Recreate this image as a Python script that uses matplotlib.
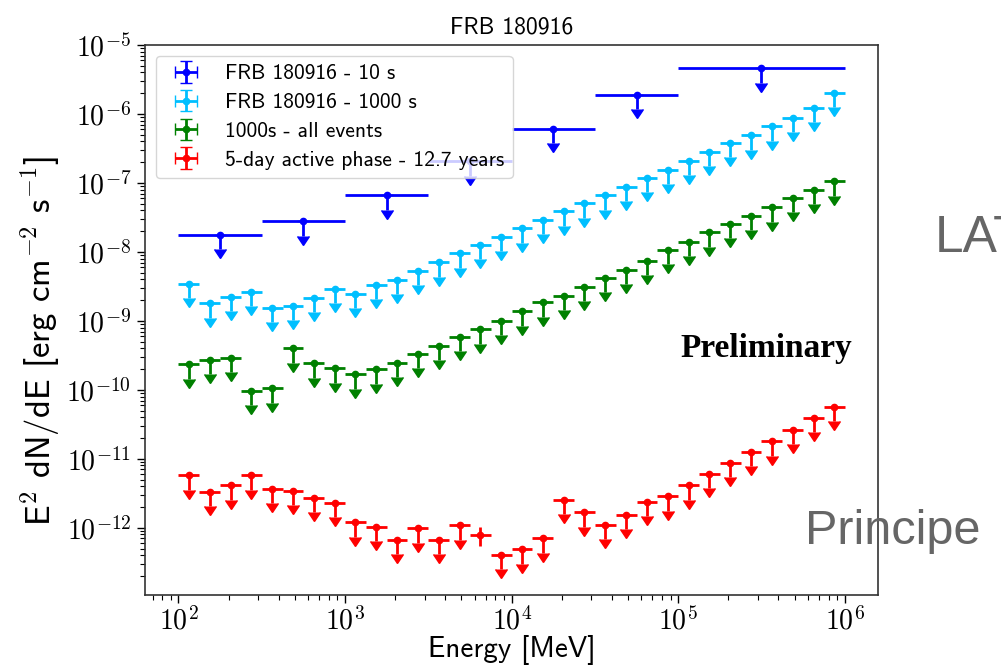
import numpy as np
import matplotlib
matplotlib.use("Agg")
import matplotlib.pyplot as plt
from matplotlib.ticker import FuncFormatter, NullFormatter

plt.rcParams["font.family"] = ["cmss10", "DejaVu Sans"]
plt.rcParams["mathtext.fontset"] = "cm"
plt.rcParams["axes.unicode_minus"] = False

# 10 s analysis, half-decade bins (last one is one decade wide)
BLUE_LO = np.array([100, 316.2, 1000, 3162, 10000, 31623, 100000])
BLUE_HI = np.array([316.2, 1000, 3162, 10000, 31623, 100000, 1000000])
BLUE_E = np.array([177.8, 562.3, 1778, 5623, 17783, 56234, 316228])
BLUE_UL = np.array([1.78e-8, 2.78e-8, 6.58e-8, 2.05e-7, 6.14e-7, 1.89e-6, 4.58e-6])

# 8 bins per decade for the other three series
BIN_LO = np.array([
    100, 133.4, 177.8, 237.1, 316.2, 421.7, 562.3, 749.9,
    1000, 1334, 1778, 2371, 3162, 4217, 5623, 7499,
    10000, 13335, 17783, 23714, 31623, 42170, 56234, 74989,
    100000, 133352, 177828, 237137, 316228, 421697, 562341, 749894,
])
BIN_HI = np.array([
    133.4, 177.8, 237.1, 316.2, 421.7, 562.3, 749.9, 1000,
    1334, 1778, 2371, 3162, 4217, 5623, 7499, 10000,
    13335, 17783, 23714, 31623, 42170, 56234, 74989, 100000,
    133352, 177828, 237137, 316228, 421697, 562341, 749894, 1000000,
])
BIN_E = np.array([
    115.5, 154.0, 205.4, 273.8, 365.2, 487.0, 649.4, 866.0,
    1155, 1540, 2054, 2738, 3652, 4870, 6494, 8660,
    11548, 15399, 20535, 27384, 36517, 48697, 64938, 86596,
    115478, 153993, 205353, 273842, 365174, 486968, 649382, 865964,
])

CYAN_UL = np.array([
    3.42e-9, 1.79e-9, 2.23e-9, 2.64e-9, 1.56e-9, 1.65e-9, 2.14e-9, 2.89e-9,
    2.45e-9, 3.34e-9, 3.95e-9, 5.33e-9, 7.05e-9, 9.52e-9, 1.26e-8, 1.65e-8,
    2.20e-8, 2.92e-8, 3.89e-8, 5.08e-8, 6.58e-8, 8.69e-8, 1.19e-7, 1.56e-7,
    2.07e-7, 2.81e-7, 3.79e-7, 4.91e-7, 6.64e-7, 8.88e-7, 1.24e-6, 2.02e-6,
])
GREEN_UL = np.array([
    2.34e-10, 2.71e-10, 2.92e-10, 9.59e-11, 1.05e-10, 4.01e-10, 2.43e-10, 2.05e-10,
    1.68e-10, 1.98e-10, 2.47e-10, 3.34e-10, 4.33e-10, 5.85e-10, 7.57e-10, 1.00e-9,
    1.37e-9, 1.85e-9, 2.31e-9, 3.12e-9, 4.18e-9, 5.46e-9, 7.46e-9, 1.08e-8,
    1.41e-8, 1.92e-8, 2.55e-8, 3.37e-8, 4.45e-8, 6.09e-8, 7.96e-8, 1.06e-7,
])
# index 14 of the red series is a detection, not an upper limit
RED_FLUX = np.array([
    5.75e-12, 3.29e-12, 4.12e-12, 5.75e-12, 3.69e-12, 3.45e-12, 2.69e-12, 2.28e-12,
    1.20e-12, 1.04e-12, 6.68e-13, 9.84e-13, 6.68e-13, 1.08e-12, 7.89e-13, 4.04e-13,
    4.88e-13, 7.05e-13, 2.55e-12, 1.67e-12, 1.10e-12, 1.54e-12, 2.35e-12, 2.85e-12,
    4.12e-12, 6.01e-12, 8.69e-12, 1.26e-11, 1.80e-11, 2.66e-11, 3.92e-11, 5.61e-11,
])
RED_DET = 14
RED_DET_ERR = 2.5e-13

ARROW_FRAC = 0.38

fig = plt.figure(figsize=(10.01, 6.72), dpi=100)
ax = fig.add_axes([0.145, 0.1146, 0.7322, 0.8184])


def plot_limits(e, lo, hi, ul, color, label):
    return ax.errorbar(
        e, ul,
        xerr=[e - lo, hi - e],
        yerr=ARROW_FRAC * ul,
        uplims=True,
        fmt="o",
        color=color,
        markersize=4.5,
        elinewidth=2.0,
        capsize=4.5,
        capthick=1.0,
        label=label,
    )


containers = []
containers.append(plot_limits(BLUE_E, BLUE_LO, BLUE_HI, BLUE_UL, "#0000ff", "FRB 180916 - 10 s"))
containers.append(plot_limits(BIN_E, BIN_LO, BIN_HI, CYAN_UL, "#00bfff", "FRB 180916 - 1000 s"))
containers.append(plot_limits(BIN_E, BIN_LO, BIN_HI, GREEN_UL, "#008000", "1000s - all events"))

is_limit = np.arange(len(RED_FLUX)) != RED_DET
containers.append(plot_limits(BIN_E[is_limit], BIN_LO[is_limit], BIN_HI[is_limit],
                              RED_FLUX[is_limit], "#ff0000", "5-day active phase - 12.7 years"))
ax.errorbar(
    BIN_E[RED_DET], RED_FLUX[RED_DET],
    xerr=[[BIN_E[RED_DET] - BIN_LO[RED_DET]], [BIN_HI[RED_DET] - BIN_E[RED_DET]]],
    yerr=RED_DET_ERR,
    fmt="o", color="#ff0000", markersize=4.5, elinewidth=2.0, capsize=0,
)

ax.set_xscale("log")
ax.set_yscale("log")
ax.set_ylim(1.06e-13, 1e-5)

# serif CM powers of ten, like the original
pow_fmt = FuncFormatter(lambda v, pos: r"$10^{%d}$" % round(np.log10(v)))
for axis in (ax.xaxis, ax.yaxis):
    axis.set_major_formatter(pow_fmt)
    axis.set_minor_formatter(NullFormatter())

ax.set_title("FRB 180916", fontsize=17, pad=8)
ax.set_xlabel("Energy [MeV]", fontsize=21, labelpad=0)
ax.set_ylabel(r"E$^2$ dN/dE [erg cm$^{-2}$ s$^{-1}$]", fontsize=25)
ax.yaxis.set_label_coords(-0.113, 0.462)

ax.tick_params(which="major", labelsize=20, length=6, width=1.0, pad=4)
ax.tick_params(axis="x", which="major", pad=2)
ax.tick_params(which="minor", length=3.5, width=0.8)
for spine in ax.spines.values():
    spine.set_color("0.2")
    spine.set_linewidth(1.2)

ax.legend(loc="upper left", fontsize=15.5, labelspacing=0.45)

# legend handles are built already, now drop the end caps on the x bars
for cont in containers:
    for cap in cont[1]:
        if cap.get_marker() == "|":
            cap.set_visible(False)

ax.text(0.73, 0.433, "Preliminary", transform=ax.transAxes,
        fontfamily="Liberation Serif", fontweight="bold", fontsize=24)

fig.text(935 / 1001, 1 - 252 / 672, "LAT", color="#666666",
         fontfamily="Liberation Sans", fontsize=37)
fig.text(805 / 1001, 1 - 544 / 672, "Principe", color="#666666",
         fontfamily="Liberation Sans", fontsize=35)

fig.savefig("out.png", dpi=100)
